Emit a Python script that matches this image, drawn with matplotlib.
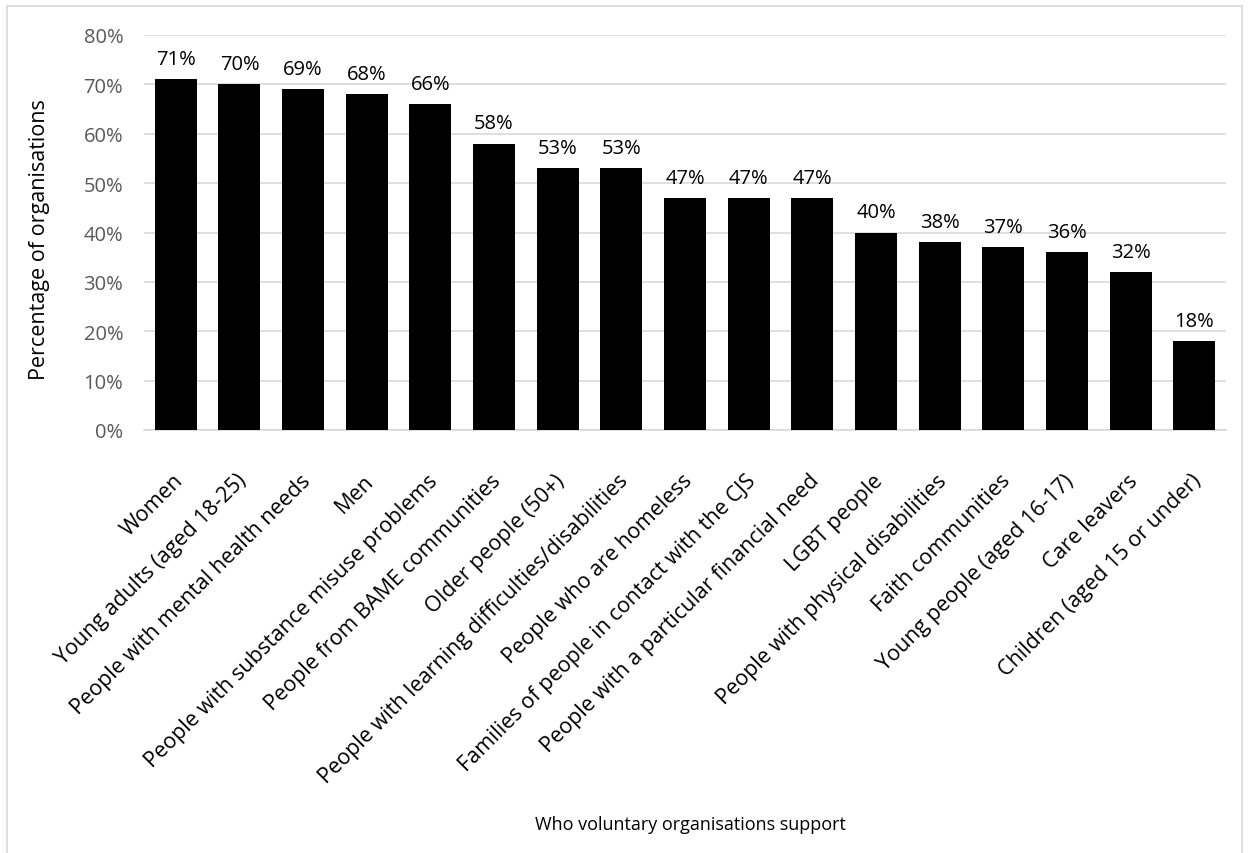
import matplotlib

matplotlib.use("Agg")

import matplotlib.pyplot as plt
from matplotlib.patches import Rectangle
from matplotlib.ticker import PercentFormatter
from matplotlib.transforms import ScaledTranslation

categories = [
    "Women",
    "Young adults (aged 18-25)",
    "People with mental health needs",
    "Men",
    "People with substance misuse problems",
    "People from BAME communities",
    "Older people (50+)",
    "People with learning difficulties/disabilities",
    "People who are homeless",
    "Families of people in contact with the CJS",
    "People with a particular financial need",
    "LGBT people",
    "People with physical disabilities",
    "Faith communities",
    "Young people (aged 16-17)",
    "Care leavers",
    "Children (aged 15 or under)",
]
values = [71, 70, 69, 68, 66, 58, 53, 53, 47, 47, 47, 40, 38, 37, 36, 32, 18]
y_ticks = [0, 10, 20, 30, 40, 50, 60, 70, 80]

plt.rcParams["font.family"] = ["Open Sans", "DejaVu Sans"]

fig = plt.figure(figsize=(12.5, 8.54), dpi=100)
fig.patches.append(
    Rectangle((0.0056, -0.01), 0.988, 1.002, transform=fig.transFigure,
              fill=False, edgecolor="#d9d9d9", linewidth=1.2)
)

W, H = 1250, 854
left, right, top, bottom = 144, 1226, 36, 431
ax = fig.add_axes([left / W, 1 - bottom / H, (right - left) / W, (bottom - top) / H])

x = range(len(categories))
bars = ax.bar(x, values, width=0.66, color="black", zorder=3)
for rect, v in zip(bars, values):
    ax.text(rect.get_x() + rect.get_width() / 2, v + 4.1, f"{v}%",
            ha="center", va="center", fontsize=14.5, color="black")

ax.set_ylim(0, 80)
ax.set_xlim(-0.5, len(categories) - 0.5)
ax.set_yticks(y_ticks)
ax.yaxis.set_major_formatter(PercentFormatter(decimals=0))
ax.grid(axis="y", color="#d9d9d9", linewidth=1.2, zorder=0)
for side in ["top", "right", "left"]:
    ax.spines[side].set_visible(False)
ax.spines["bottom"].set_color("#d9d9d9")
ax.spines["bottom"].set_linewidth(1.2)
ax.tick_params(axis="y", length=0, labelsize=14.5, labelcolor="#595959", pad=15)
ax.tick_params(axis="x", length=0, labelsize=15.5, pad=34)
ax.set_xticks(list(x))
ax.set_xticklabels(categories, rotation=45, ha="right", va="center",
                   rotation_mode="anchor")
shift = ScaledTranslation(4 / 100, 0, fig.dpi_scale_trans)
for lbl in ax.get_xticklabels():
    lbl.set_transform(lbl.get_transform() + shift)

fig.text(40 / W, 1 - 240 / H, "Percentage of organisations", rotation=90,
         ha="center", va="center", fontsize=15.5)
fig.text(690 / W, 1 - 825 / H, "Who voluntary organisations support",
         ha="center", va="center", fontsize=13)

fig.savefig("out.png", dpi=100, facecolor="white")
